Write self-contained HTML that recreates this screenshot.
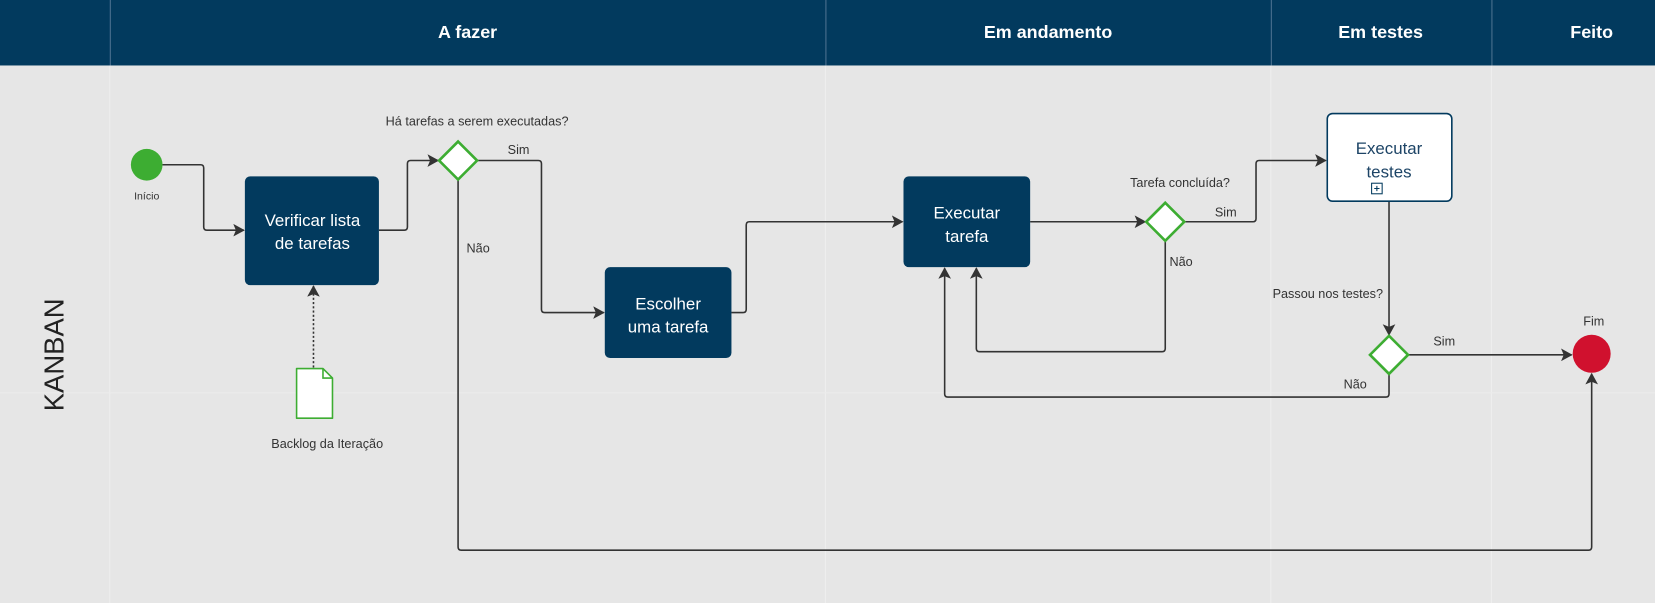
<!DOCTYPE html>
<html><head><meta charset="utf-8"><style>
html,body{margin:0;padding:0;background:#e6e6e6}
svg{display:block}
text{font-family:"Liberation Sans","DejaVu Sans",sans-serif}
</style></head><body>
<svg width="1655" height="603" viewBox="0 0 1568 571" preserveAspectRatio="none" xmlns="http://www.w3.org/2000/svg">
<defs>
<marker id="a" markerWidth="12" markerHeight="12" refX="10" refY="6" orient="auto" markerUnits="userSpaceOnUse">
<path d="M0,0 L11,6 L0,12 L2.5,6 z" fill="#333"/></marker>
</defs>
<rect width="1568" height="571" fill="#e6e6e6"/>
<g stroke="#eeeeee" stroke-width="1">
<line x1="104" y1="62" x2="104" y2="571"/><line x1="782" y1="62" x2="782" y2="571"/>
<line x1="1204" y1="62" x2="1204" y2="571"/><line x1="1413" y1="62" x2="1413" y2="571"/>
<line x1="0" y1="372" x2="1568" y2="372" stroke="#ececec"/>
</g>
<rect x="0" y="0" width="1568" height="62" fill="#023a5e"/>
<g stroke="#4d7291" stroke-width="1">
<line x1="104.5" y1="0" x2="104.5" y2="62"/><line x1="782.5" y1="0" x2="782.5" y2="62"/>
<line x1="1204.5" y1="0" x2="1204.5" y2="62"/><line x1="1413.5" y1="0" x2="1413.5" y2="62"/>
</g>
<g fill="#fff" font-weight="bold" font-size="17" text-anchor="middle">
<text x="443" y="36">A fazer</text><text x="993" y="36">Em andamento</text>
<text x="1308" y="36">Em testes</text><text x="1508" y="36">Feito</text>
</g>
<text x="60" y="336" font-size="26" fill="#222" text-anchor="middle" transform="rotate(-90 60 336)">KANBAN</text>

<g fill="none" stroke="#333" stroke-width="1.5" stroke-linejoin="round">
<path d="M154,156 H190 Q193,156 193,159 V215 Q193,218 196,218 H231" marker-end="url(#a)"/>
<path d="M359,218 H383 Q386,218 386,215 V155 Q386,152 389,152 H415" marker-end="url(#a)"/>
<path d="M452,152 H510 Q513,152 513,155 V293 Q513,296 516,296 H572" marker-end="url(#a)"/>
<path d="M434,170 V518 Q434,521 437,521 H1505 Q1508,521 1508,518 V354" marker-end="url(#a)"/>
<path d="M693,296 H704 Q707,296 707,293 V213 Q707,210 710,210 H855" marker-end="url(#a)"/>
<path d="M976,210 H1085" marker-end="url(#a)"/>
<path d="M1122,210 H1187 Q1190,210 1190,207 V155 Q1190,152 1193,152 H1256" marker-end="url(#a)"/>
<path d="M1104,228 V330 Q1104,333 1101,333 H928 Q925,333 925,330 V254" marker-end="url(#a)"/>
<path d="M1316,190 V317" marker-end="url(#a)"/>
<path d="M1334,336 H1489" marker-end="url(#a)"/>
<path d="M1316,354 V373 Q1316,376 1313,376 H898 Q895,376 895,373 V254" marker-end="url(#a)"/>
<path d="M297,348 V271" stroke-dasharray="2,2" marker-end="url(#a)"/>
</g>

<circle cx="139" cy="156" r="15" fill="#3dad32"/>
<text x="139" y="189" font-size="10" fill="#333" text-anchor="middle">Início</text>
<circle cx="1508" cy="335" r="18" fill="#d0112e"/>
<text x="1510" y="308" font-size="12" fill="#333" text-anchor="middle">Fim</text>

<g fill="#023a5e">
<rect x="232" y="167" width="127" height="103" rx="5"/>
<rect x="573" y="253" width="120" height="86" rx="5"/>
<rect x="856" y="167" width="120" height="86" rx="5"/>
</g>
<g fill="#fff" font-size="16" text-anchor="middle">
<text x="296" y="214">Verificar lista</text><text x="296" y="236">de tarefas</text>
<text x="633" y="293">Escolher</text><text x="633" y="315">uma tarefa</text>
<text x="916" y="207">Executar</text><text x="916" y="229">tarefa</text>
</g>
<rect x="1257.5" y="107.5" width="118" height="83" rx="5" fill="#fff" stroke="#023a5e" stroke-width="1.5"/>
<text x="1316" y="146" font-size="16" fill="#1d4466" text-anchor="middle">Executar</text>
<text x="1316" y="168" font-size="16" fill="#1d4466" text-anchor="middle">testes</text>
<rect x="1299.5" y="173.5" width="10" height="10" fill="#fff" stroke="#023a5e"/>
<path d="M1302,178.5 H1307 M1304.5,176 V181" stroke="#023a5e"/>

<g fill="#fff" stroke="#3dad32" stroke-width="2.5">
<path d="M434,134 L452,152 L434,170 L416,152 Z"/>
<path d="M1104,192 L1122,210 L1104,228 L1086,210 Z"/>
<path d="M1316,318 L1334,336 L1316,354 L1298,336 Z"/>
</g>
<path d="M281,349 H306 L315,358 V396 H281 Z" fill="#fff" stroke="#3dad32" stroke-width="1.5" stroke-linejoin="round"/>
<path d="M306,349 V358 H315" fill="none" stroke="#3dad32" stroke-width="1.5"/>

<g font-size="12" fill="#333">
<text x="452" y="119" text-anchor="middle">Há tarefas a serem executadas?</text>
<text x="481" y="146">Sim</text><text x="442" y="239">Não</text>
<text x="1118" y="177" text-anchor="middle">Tarefa concluída?</text>
<text x="1151" y="205">Sim</text><text x="1108" y="252">Não</text>
<text x="1258" y="282" text-anchor="middle">Passou nos testes?</text>
<text x="1358" y="327">Sim</text><text x="1273" y="368">Não</text>
<text x="310" y="424" text-anchor="middle">Backlog da Iteração</text>
</g>
</svg>
</body></html>
